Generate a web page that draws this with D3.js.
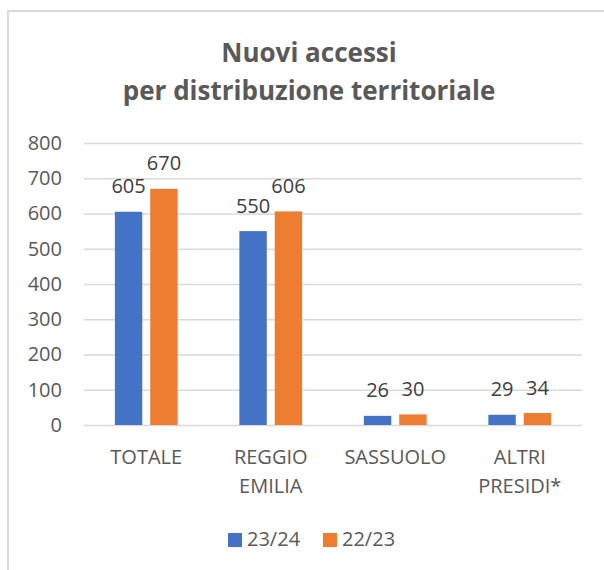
<!DOCTYPE html>
<html>
<head>
<meta charset="utf-8">
<script src="https://cdn.jsdelivr.net/npm/d3@7"></script>
<style>
  body { margin: 0; background: #fff; }
  svg text { font-family: "Open Sans", sans-serif; }
</style>
</head>
<body>
<svg id="chart"></svg>
<script>
// chart values
const categories = [["TOTALE"], ["REGGIO", "EMILIA"], ["SASSUOLO"], ["ALTRI", "PRESIDI*"]];
const seriesNames = ["23/24", "22/23"];
const values2324 = [605, 550, 26, 29];
const values2223 = [670, 606, 30, 34];
const yTicks = [0, 100, 200, 300, 400, 500, 600, 700, 800];
const titleLines = ["Nuovi accessi", "per distribuzione territoriale"];

const colors = ["#4472C4", "#ED7D31"];
const W = 604, H = 570;
const margin = {top: 143, right: 22, bottom: 145, left: 84};
const width = W - margin.left - margin.right;
const height = H - margin.top - margin.bottom;

const svg = d3.select("#chart").attr("width", W).attr("height", H);

// outer frame (cut by the window on right and bottom)
svg.append("rect")
  .attr("x", 8).attr("y", 11)
  .attr("width", 800).attr("height", 800)
  .attr("fill", "none")
  .attr("stroke", "#d9d9d9")
  .attr("stroke-width", 2);

// title
svg.append("text")
  .attr("x", 309)
  .attr("y", 62)
  .attr("text-anchor", "middle")
  .attr("font-size", 26)
  .attr("font-weight", "bold")
  .attr("fill", "#595959")
  .selectAll("tspan")
  .data(titleLines)
  .join("tspan")
    .attr("x", 309)
    .attr("dy", (d, i) => i == 0 ? 0 : 38)
    .text(d => d);

const g = svg.append("g")
  .attr("transform", "translate(" + margin.left + "," + margin.top + ")");

const y = d3.scaleLinear().domain([0, 800]).range([height, 0]);
const x = d3.scaleBand().domain(categories.map(d => d.join(" "))).range([0, width]);
const xSub = d3.scaleBand().domain(seriesNames).range([0, x.bandwidth()])
  .paddingInner(0.225).paddingOuter(0.873);

// grid + y labels
const yAxis = d3.axisLeft(y).tickValues(yTicks).tickSize(-width).tickPadding(22);
const ya = g.append("g").call(yAxis);
ya.select(".domain").remove();
ya.selectAll(".tick line").attr("stroke", "#d9d9d9").attr("stroke-width", 1.5);
ya.selectAll(".tick text")
  .attr("fill", "#595959")
  .attr("font-size", 20)
  .attr("font-family", "Open Sans, sans-serif");

// bars
const rows = categories.map((c, i) => ({
  key: c.join(" "),
  vals: [values2324[i], values2223[i]]
}));

const groups = g.selectAll(".cat")
  .data(rows)
  .join("g")
  .attr("class", "cat")
  .attr("transform", d => "translate(" + x(d.key) + ",0)");

groups.selectAll("rect")
  .data(d => d.vals.map((v, j) => ({s: seriesNames[j], v: v, j: j})))
  .join("rect")
  .attr("x", d => xSub(d.s))
  .attr("y", d => y(d.v))
  .attr("width", xSub.bandwidth())
  .attr("height", d => y(0) - y(d.v))
  .attr("fill", d => colors[d.j]);

groups.selectAll("text.val")
  .data(d => d.vals.map((v, j) => ({s: seriesNames[j], v: v, j: j})))
  .join("text")
  .attr("class", "val")
  .attr("x", d => xSub(d.s) + xSub.bandwidth() / 2)
  .attr("y", d => y(d.v) - 18.5)
  .attr("text-anchor", "middle")
  .attr("font-size", 20)
  .attr("fill", "#404040")
  .text(d => d.v);

// category labels
const xa = g.append("g").attr("transform", "translate(0," + height + ")");
xa.selectAll("text")
  .data(categories)
  .join("text")
  .attr("x", d => x(d.join(" ")) + x.bandwidth() / 2)
  .attr("y", 39)
  .attr("text-anchor", "middle")
  .attr("font-size", 20)
  .attr("fill", "#595959")
  .selectAll("tspan")
  .data(d => d)
  .join("tspan")
    .attr("x", function() { return d3.select(this.parentNode).attr("x"); })
    .attr("dy", (d, i) => i == 0 ? 0 : 29)
    .text(d => d);

// legend
const legend = svg.append("g").attr("transform", "translate(228,533)");
const legX = [0, 95];
seriesNames.forEach((s, i) => {
  legend.append("rect")
    .attr("x", legX[i]).attr("y", 0)
    .attr("width", 14).attr("height", 14)
    .attr("fill", colors[i]);
  legend.append("text")
    .attr("x", legX[i] + 19).attr("y", 13)
    .attr("font-size", 20)
    .attr("fill", "#595959")
    .text(s);
});
</script>
</body>
</html>
